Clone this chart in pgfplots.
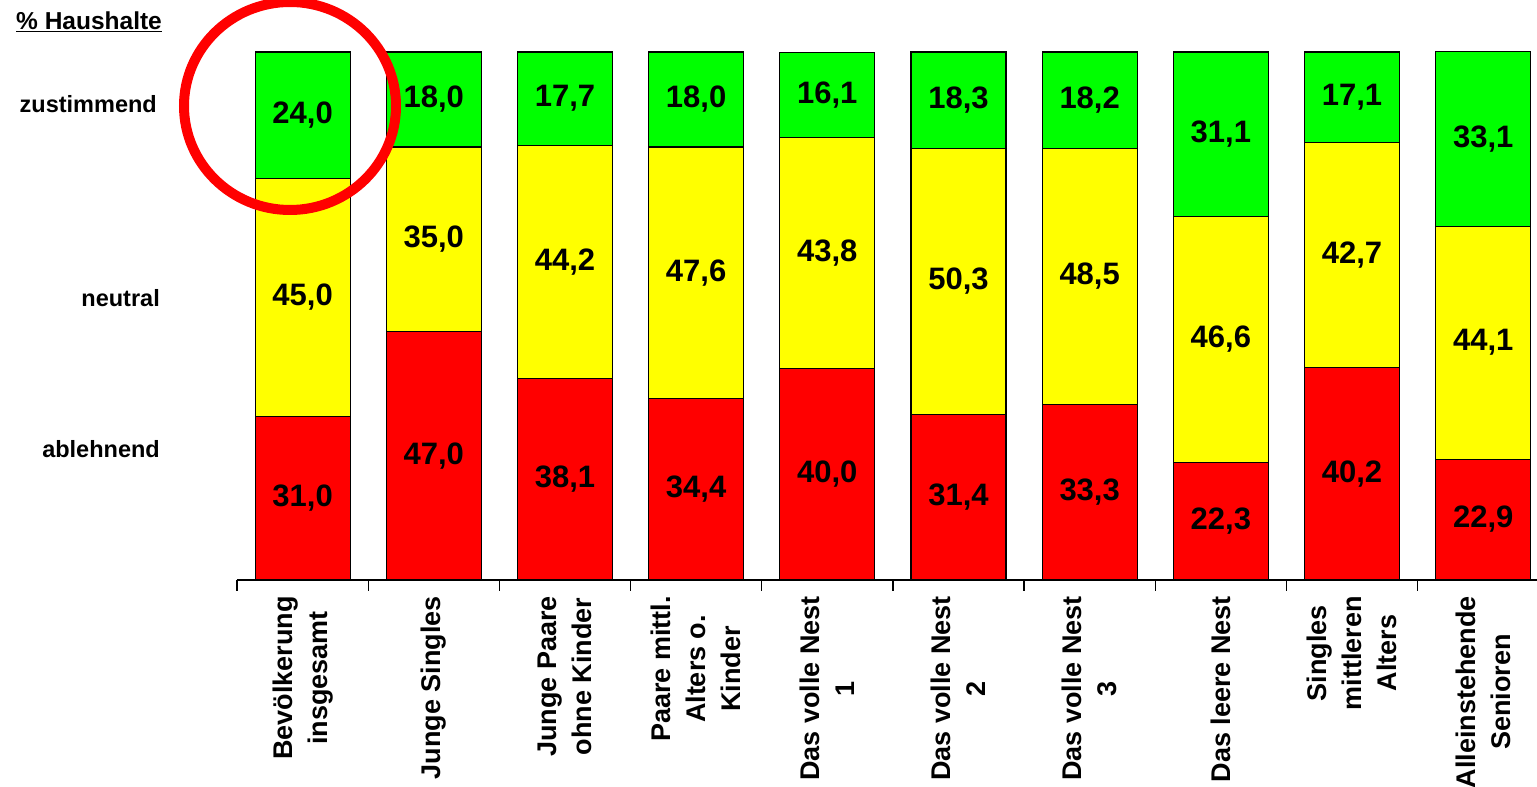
\documentclass[border=0pt]{standalone}
\usepackage{pgfplots}
\pgfplotsset{compat=1.18}
\usepackage{pgfplotstable}
\usepackage{fontspec}
\setmainfont{Liberation Sans}
\definecolor{cgreen}{RGB}{0,255,0}
\definecolor{cyellow}{RGB}{255,255,0}
\definecolor{cred}{RGB}{255,0,0}
\pgfplotstableread{
x red yellow green
0 31.0 45.0 24.0
1 47.0 35.0 18.0
2 38.1 44.2 17.7
3 34.4 47.6 18.0
4 40.0 43.8 16.1
5 31.4 50.3 18.3
6 33.3 48.5 18.2
7 22.3 46.6 31.1
8 40.2 42.7 17.1
9 22.9 44.1 33.1
}\data
\begin{document}
\begin{tikzpicture}
\pgfplotsset{
  base/.style={
    scale only axis, width=1300pt, height=528pt,
    xmin=-0.5, xmax=9.41, ymin=0, ymax=100,
    at={(0pt,0pt)}, anchor=south west, clip=false,
  }
}
\begin{axis}[base,
  ybar stacked, bar width=0.724,
  axis y line=none, axis x line*=bottom,
  x axis line style={-, line width=1.3pt, black},
  xtick={0,...,9},
  xticklabels={{Bevölkerung\\insgesamt}, {Junge Singles}, {Junge Paare\\ohne Kinder}, {Paare mittl.\\Alters o.\\Kinder}, {Das volle Nest\\1}, {Das volle Nest\\2}, {Das volle Nest\\3}, {Das leere Nest}, {Singles\\mittleren\\Alters}, {Alleinstehende\\Senioren}},
  major tick length=0pt,
  minor xtick={-0.5,0.5,...,9.5},
  minor tick length=11pt,
  tick align=outside,
  minor tick style={line width=1.3pt, black},
  xticklabel style={rotate=90, anchor=east, align=center, inner sep=0pt, font=\fontsize{27}{35}\selectfont\bfseries},
  xticklabel shift=16pt,
]
\addplot[fill=cred, draw=black, line width=1.1pt] table[x=x, y=red]{\data};
\addplot[fill=cyellow, draw=black, line width=1.1pt] table[x=x, y=yellow]{\data};
\addplot[fill=cgreen, draw=black, line width=1.1pt] table[x=x, y=green]{\data};
\end{axis}
\begin{axis}[base, hide axis,
  nodes near coords, point meta=explicit,
  every node near coord/.append style={anchor=center, inner sep=0pt, font=\fontsize{31}{36}\selectfont\bfseries, text=black},
  /pgf/number format/.cd, fixed, fixed zerofill, precision=1, use comma, assume math mode=true]
\addplot[draw=none, mark=none] table[x=x, y expr=\thisrow{red}/2, meta=red]{\data};
\addplot[draw=none, mark=none] table[x=x, y expr=\thisrow{red}+\thisrow{yellow}/2, meta=yellow]{\data};
\addplot[draw=none, mark=none] table[x=x, y expr=\thisrow{red}+\thisrow{yellow}+\thisrow{green}/2, meta=green]{\data};
\end{axis}
\node[anchor=west, inner sep=0pt, font=\fontsize{24.5}{28}\selectfont\bfseries] at (-221pt,558pt) {\underline{\% Haushalte}};
\node[anchor=east, inner sep=0pt, font=\fontsize{23.5}{28}\selectfont\bfseries] at (-80pt,476pt) {zustimmend};
\node[anchor=east, inner sep=0pt, font=\fontsize{23.5}{28}\selectfont\bfseries] at (-77pt,282pt) {neutral};
\node[anchor=east, inner sep=0pt, font=\fontsize{23.5}{28}\selectfont\bfseries] at (-77pt,131pt) {ablehnend};
\draw[cred, line width=10pt] (53pt,474pt) ellipse [x radius=106pt, y radius=104pt];
\pgfresetboundingbox
\path[use as bounding box] (-237pt,-207pt) rectangle (1300pt,580pt);
\end{tikzpicture}
\end{document}
